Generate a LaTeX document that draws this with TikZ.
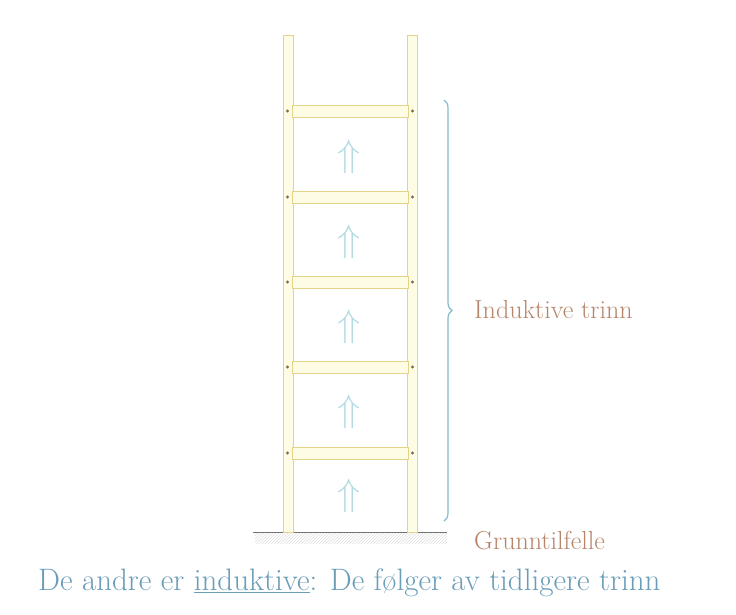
\documentclass[tikz,border=0pt]{standalone}
\usepackage{fix-cm}
\usetikzlibrary{decorations.pathreplacing,patterns}
\definecolor{railfill}{HTML}{FFFCE6}
\definecolor{raildraw}{HTML}{E3D488}
\definecolor{dotc}{HTML}{7A7045}
\definecolor{arrowc}{HTML}{B3DBE2}
\definecolor{bracec}{HTML}{86BCC8}
\definecolor{labelc}{HTML}{B5846A}
\definecolor{bottomc}{HTML}{6A9DB8}
\begin{document}
\begin{tikzpicture}[x=1pt,y=-1pt,
  rail/.style={draw=raildraw,fill=railfill,line width=1pt},
  rung/.style={draw=raildraw,fill=railfill,line width=1pt,minimum width=116pt,minimum height=12pt,inner sep=0pt,anchor=center},
  peg/.style={circle,fill=dotc,inner sep=0pt,minimum size=3.2pt},
  up/.style={text=arrowc,font=\fontsize{38}{38}\selectfont,inner sep=0pt},
  lbl/.style={text=labelc,font=\fontsize{26}{28}\selectfont,anchor=west,inner sep=0pt}]
\useasboundingbox (0,0) rectangle (736,614);
% ground
\fill[pattern=north east lines,pattern color=black!12] (255,532) rectangle (447,543);
\coordinate (g1) at (253,532);
\coordinate (g2) at (447,532);
\draw[black!55,line width=0.9pt] (g1) -- (g2);
% rails
\draw[rail] (283,35) rectangle (293,532);
\draw[rail] (407,35) rectangle (417,532);
% rungs, pegs, arrows
\foreach \i/\y in {1/111,2/197,3/282,4/367,5/453}{
  \node[rung] (r\i) at (350,\y) {};
  \node[peg] (pl\i) at (287.5,\y) {};
  \node[peg] (pr\i) at (412.5,\y) {};
}
\foreach \i/\y in {1/157,2/242,3/327,4/412,5/496}{
  \node[up] (a\i) at (349,\y) {$\Uparrow$};
}
% brace
\coordinate (b1) at (444,100);
\coordinate (b2) at (444,521);
\draw[bracec,line width=1.2pt,decorate,decoration={brace,amplitude=8pt}] (b1) -- (b2);
\node[lbl] (ind) at (474,310) {Induktive trinn};
\node[lbl] (gr) at (474,541) {Grunntilfelle};
\node[text=bottomc,font=\fontsize{31}{34}\selectfont,anchor=west,inner sep=0pt] (bot) at (38,583)
  {De andre er \underline{induktive}: De følger av tidligere trinn};
\end{tikzpicture}
\end{document}
